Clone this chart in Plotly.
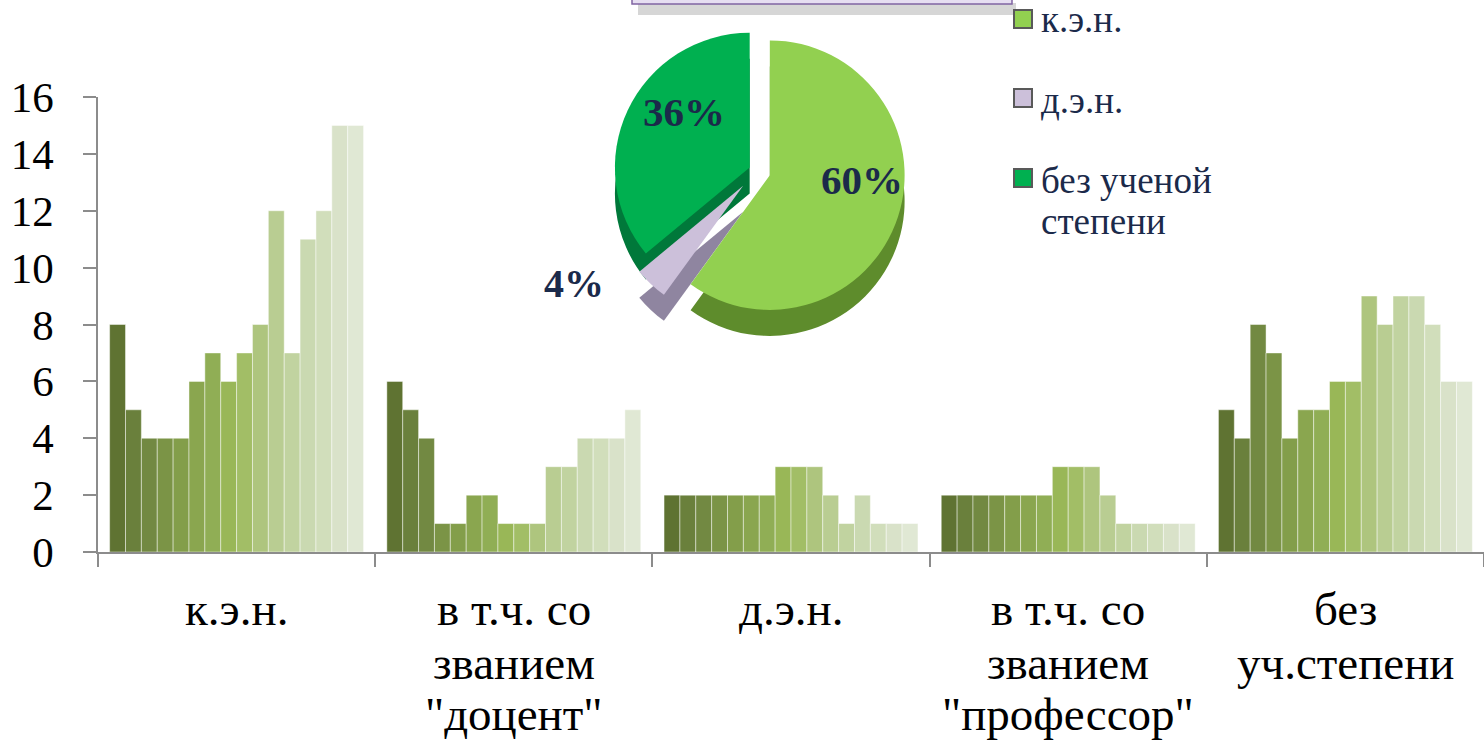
import plotly.graph_objects as go

W, H = 1484, 745

# Categories on the x axis (lines of each label separated by <br>)
categories = ["к.э.н.", "в т.ч. со<br>званием<br>\"доцент\"", "д.э.н.",
              "в т.ч. со<br>званием<br>\"профессор\"", "без<br>уч.степени"]

# Values of the 16 series within each category
kandidat = [8, 5, 4, 4, 4, 6, 7, 6, 7, 8, 12, 7, 11, 12, 15, 15]
docent = [6, 5, 4, 1, 1, 2, 2, 1, 1, 1, 3, 3, 4, 4, 4, 5]
doktor = [2, 2, 2, 2, 2, 2, 2, 3, 3, 3, 2, 1, 2, 1, 1, 1]
professor = [2, 2, 2, 2, 2, 2, 2, 3, 3, 3, 2, 1, 1, 1, 1, 1]
bez_stepeni = [5, 4, 8, 7, 4, 5, 5, 6, 6, 9, 8, 9, 9, 8, 6, 6]
groups = [kandidat, docent, doktor, professor, bez_stepeni]

# Pie: share of staff by degree
pie_labels = ["к.э.н.", "д.э.н.", "без ученой степени"]
pie_values = [60, 4, 36]

# Olive monochrome palette, dark to light
bar_colors = ["#5F7332", "#6A803C", "#728942", "#7B9446", "#839E4A", "#8AA64F",
              "#90AE55", "#99B757", "#A2BE66", "#AEC57E", "#B9CD92", "#C1D3A0",
              "#CAD9B1", "#D1DEBB", "#D9E2C9", "#E0E8D4"]
pie_top = ["#92D050", "#CCC0DA", "#00B050"]
pie_side = ["#5E8C2C", "#8F85A0", "#00783A"]

SERIF = "Liberation Serif"
NAVY = "#1B2A4A"
AXIS = "#8C8C8C"


def fx(px):
    return px / W


def fy(py):
    return 1 - py / H


fig = go.Figure()

for i in range(len(kandidat)):
    fig.add_trace(go.Bar(
        x=categories,
        y=[g[i] for g in groups],
        name=str(i + 1),
        marker=dict(color=bar_colors[i],
                    line=dict(color="rgba(255,255,255,0.45)", width=1)),
        showlegend=False,
        hoverinfo="y",
    ))

# Pie: a darker copy shifted down forms the side wall, the top face sits above it
side_dy = 26
px0, px1, py0, py1 = 602, 912, 16, 326
pull = [0.1, 0.15, 0.06]
for colors, dy in ((pie_side, side_dy), (pie_top, 0)):
    fig.add_trace(go.Pie(
        labels=pie_labels, values=pie_values, sort=False, direction="clockwise",
        rotation=0, pull=pull,
        marker=dict(colors=colors, line=dict(width=0)),
        textinfo="none", showlegend=False,
        hoverinfo="skip" if dy else "label+percent",
        domain=dict(x=[fx(px0), fx(px1)], y=[fy(py1 + dy), fy(py0 + dy)]),
    ))

shapes = []
annotations = []

# Percentage labels of the pie slices
total = sum(pie_values)
pie_label_pos = [(862, 180, 41), (574, 283, 40), (684, 112, 41)]
for v, (lx, ly, size) in zip(pie_values, pie_label_pos):
    annotations.append(dict(xref="paper", yref="paper", x=fx(lx), y=fy(ly),
                            xanchor="center", yanchor="middle", showarrow=False,
                            text="<b>%d%%</b>" % round(100 * v / total),
                            font=dict(family=SERIF, size=size, color=NAVY)))

# X axis category labels, one annotation per line
line_centers = [609, 663, 714]
for cat in categories:
    for k, line in enumerate(cat.split("<br>")):
        annotations.append(dict(xref="x", yref="paper", x=cat, y=fy(line_centers[k]),
                                xanchor="center", yanchor="middle", showarrow=False,
                                text=line, font=dict(family=SERIF, size=47, color="black")))

# Title frame at the top edge
shapes.append(dict(type="rect", xref="paper", yref="paper",
                   x0=fx(638), x1=fx(1016), y0=fy(15), y1=fy(3),
                   fillcolor="rgba(0,0,0,0.16)", line=dict(width=0), layer="below"))
shapes.append(dict(type="rect", xref="paper", yref="paper",
                   x0=fx(632), x1=fx(1012), y0=fy(4), y1=fy(-20),
                   fillcolor="#E6DEF1", line=dict(color="#8064A2", width=1.5)))

# Legend for the pie
legend_squares = [19, 98, 178]
legend_lines = [[(20, "к.э.н.")], [(100, "д.э.н.")], [(180, "без ученой"), (221, "степени")]]
for sq_y, lines, color in zip(legend_squares, legend_lines, pie_top):
    shapes.append(dict(type="rect", xref="paper", yref="paper",
                       x0=fx(1014), x1=fx(1032), y0=fy(sq_y + 9), y1=fy(sq_y - 9),
                       fillcolor=color, line=dict(color="#595959", width=2)))
    for ty, text in lines:
        annotations.append(dict(xref="paper", yref="paper", x=fx(1039), y=fy(ty),
                                xanchor="left", yanchor="middle", align="left",
                                text=text, showarrow=False,
                                font=dict(family=SERIF, size=37, color=NAVY)))

fig.update_layout(
    width=W, height=H,
    margin=dict(l=0, r=0, t=0, b=0),
    paper_bgcolor="white", plot_bgcolor="white",
    barmode="group", bargap=0.084, bargroupgap=0,
    shapes=shapes, annotations=annotations,
    xaxis=dict(domain=[fx(98), 1], showline=True, linecolor=AXIS, linewidth=1.5,
               ticks="outside", tickson="boundaries", ticklen=13,
               tickcolor=AXIS, tickwidth=1.5, showgrid=False,
               showticklabels=False, automargin=False),
    yaxis=dict(domain=[fy(552), fy(97)], range=[0, 16], dtick=2,
               showline=True, linecolor=AXIS, linewidth=1.5,
               ticks="outside", ticklen=13, tickcolor=AXIS, tickwidth=1.5,
               showgrid=False, zeroline=False,
               tickfont=dict(family=SERIF, size=43, color="black"),
               ticklabelstandoff=21, automargin=False),
)

fig.write_html("out.html")
